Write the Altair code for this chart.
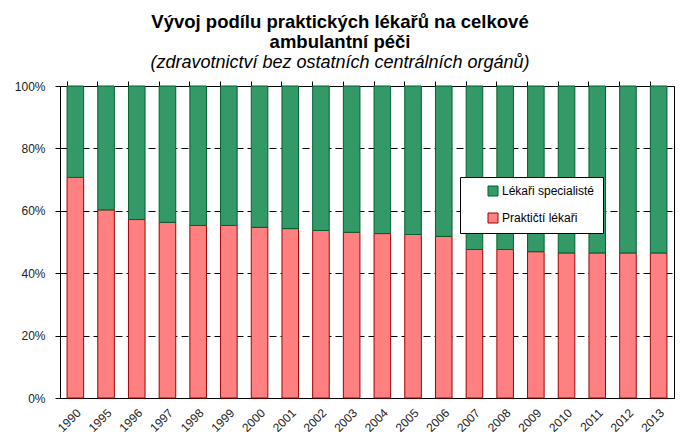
import pandas as pd
import altair as alt

# Years and shares (percent of ambulatory care)
years = ["1990", "1995", "1996", "1997", "1998", "1999", "2000", "2001", "2002", "2003",
         "2004", "2005", "2006", "2007", "2008", "2009", "2010", "2011", "2012", "2013"]
prakticti = [70.7, 60.3, 57.2, 56.3, 55.3, 55.3, 54.7, 54.3, 53.7, 53.1,
             52.7, 52.4, 51.8, 47.6, 47.6, 46.9, 46.5, 46.5, 46.5, 46.5]
specialiste = [29.3, 39.7, 42.8, 43.7, 44.7, 44.7, 45.3, 45.7, 46.3, 46.9,
               47.3, 47.6, 48.2, 52.4, 52.4, 53.1, 53.5, 53.5, 53.5, 53.5]

series = ["Lékaři specialisté", "Praktičtí lékaři"]
fills = ["#339966", "#FF8080"]
strokes = ["#006030", "#A00000"]

rows = []
for i, y in enumerate(years):
    rows.append({"rok": y, "skupina": series[1], "podil": prakticti[i], "poradi": 0})
    rows.append({"rok": y, "skupina": series[0], "podil": specialiste[i], "poradi": 1})
df = pd.DataFrame(rows)

FONT = "Liberation Sans, Arial"

base = alt.Chart(df)

y_enc = alt.Y("podil:Q", stack="normalize", title=None,
              scale=alt.Scale(domain=[0, 1]),
              axis=alt.Axis(format="%", values=[0, 0.2, 0.4, 0.6, 0.8, 1.0],
                            tickSize=5, labelPadding=10, grid=True,
                            gridDash=[7, 4], gridColor="black", gridOpacity=1))

bars = base.mark_bar(strokeWidth=1).encode(
    x=alt.X("rok:N", sort=years, title=None,
            scale=alt.Scale(paddingInner=0.46, paddingOuter=0.23),
            axis=alt.Axis(labelAngle=-45, labelAlign="right", labelBaseline="top",
                          ticks=False, labelPadding=9, domain=True)),
    y=y_enc,
    color=alt.Color("skupina:N", title=None,
                    scale=alt.Scale(domain=series, range=fills),
                    legend=alt.Legend(orient="none", legendX=400, legendY=91,
                                      fillColor="white", strokeColor="black",
                                      padding=8, symbolType="square", symbolSize=100,
                                      symbolStrokeWidth=1, rowPadding=13,
                                      symbolOffset=19, labelOffset=3,
                                      labelExpr="datum.label + '\u00a0\u00a0\u00a0\u00a0\u00a0\u00a0'")),
    stroke=alt.Stroke("skupina:N", title=None,
                      scale=alt.Scale(domain=series, range=strokes)),
    order=alt.Order("poradi:Q"),
)

# invisible layer that carries the category-boundary ticks
ticks = base.mark_bar(opacity=0).encode(
    x=alt.X("rok:N", sort=years, title=None,
            axis=alt.Axis(bandPosition=0, labels=False, ticks=True, tickSize=5,
                          domain=False, grid=False)),
    y=y_enc,
)

chart = alt.layer(bars, ticks).resolve_axis(x="independent").properties(
    width=614,
    height=312,
    autosize=alt.AutoSizeParams(type="none"),
    padding={"left": 52, "top": 78, "right": 6, "bottom": 38},
    title=alt.TitleParams(
        text=["Vývoj podílu praktických lékařů na celkové", "ambulantní péči"],
        subtitle="(zdravotnictví bez ostatních centrálních orgánů)",
        anchor="middle", dx=-27, offset=8,
        font=FONT, fontSize=18.5, fontWeight="bold", color="black", lineHeight=20,
        subtitleFont=FONT, subtitleFontSize=18, subtitleFontStyle="italic",
        subtitleColor="black", subtitlePadding=3,
    ),
).configure_view(
    stroke="black", strokeWidth=1
).configure_axis(
    labelFont=FONT, labelFontSize=12, labelColor="#222222",
    domainColor="black", tickColor="black",
).configure_legend(
    labelFont=FONT, labelFontSize=12, labelColor="black"
)

chart.save("out.html", embed_options={"renderer": "svg", "actions": False})
